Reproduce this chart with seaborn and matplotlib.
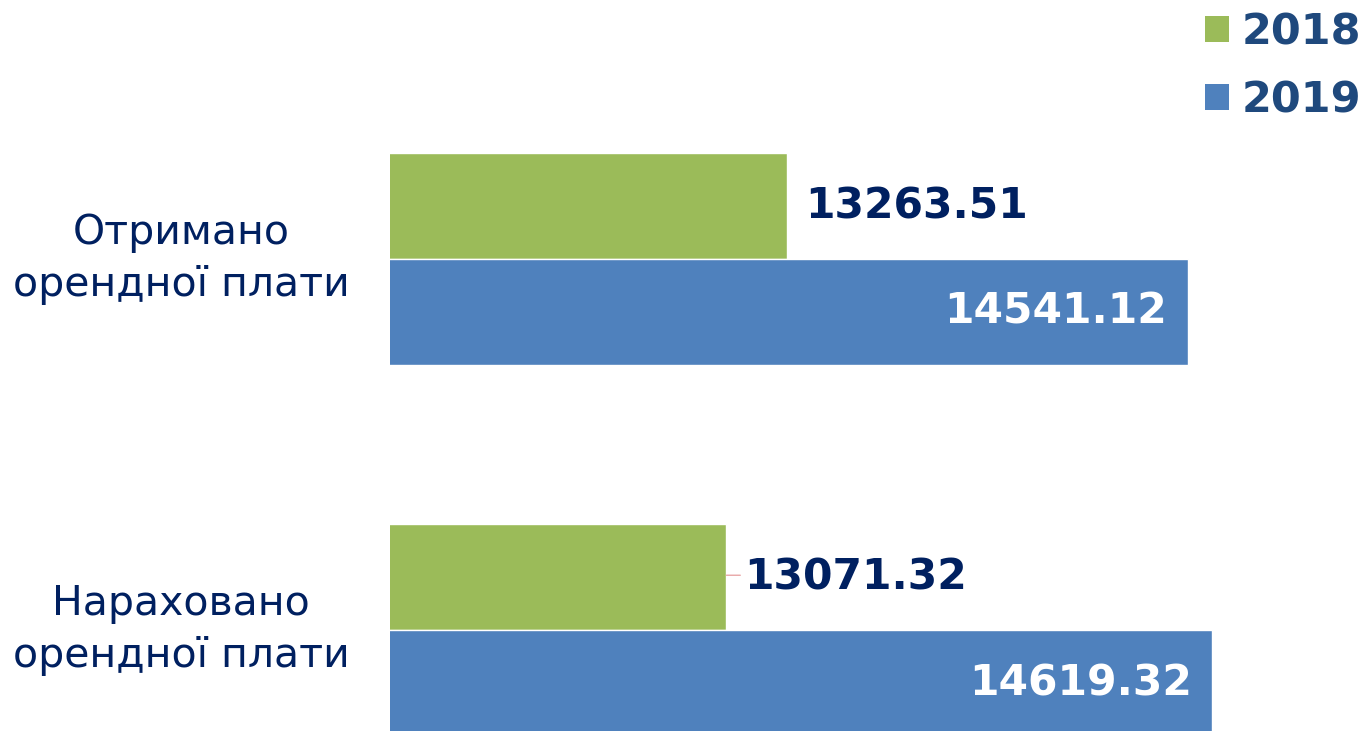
import matplotlib
matplotlib.use("Agg")
import matplotlib.pyplot as plt
import seaborn as sns
import pandas as pd
from matplotlib.patches import Patch

categories = ["Отримано\nорендної плати", "Нараховано\nорендної плати"]
years = ["2018", "2019"]
values_2018 = [13263.51, 13071.32]
values_2019 = [14541.12, 14619.32]

df = pd.DataFrame({
    "category": categories * 2,
    "year": [years[0]] * 2 + [years[1]] * 2,
    "value": values_2018 + values_2019,
})

sns.set_theme(style="white")
plt.rcParams['font.family'] = ['DejaVu Sans']

GREEN = "#9BBB59"
BLUE = "#4F81BD"
NAVY = "#002060"
LEG = "#1F497D"

fig = plt.figure(figsize=(13.63, 7.31), dpi=100)
ax = fig.add_axes([390 / 1363, 0.0, 942 / 1363, 1.0])

sns.barplot(data=df, y="category", x="value", hue="year", orient="h",
            palette=[GREEN, BLUE], width=0.571, saturation=1, ax=ax,
            legend=False, errorbar=None)

ax.set_xlim(12000, 15000)
ax.set_ylim(1.272, -0.698)
for s in ax.spines.values():
    s.set_visible(False)
ax.set_xticks([])
ax.set_xlabel("")
ax.set_ylabel("")
ax.tick_params(axis="y", length=0, pad=29)
for lab in ax.get_yticklabels():
    lab.set_fontsize(29.5)
    lab.set_color(NAVY)
    lab.set_multialignment("center")
    lab.set_linespacing(1.4)
    lab.set_va("center")

green_c, blue_c = ax.containers[0], ax.containers[1]
for bar, v in zip(green_c, values_2018):
    y = bar.get_y() + bar.get_height() / 2
    ax.annotate(f"{v:.2f}", xy=(bar.get_width(), y), xytext=(13, 0),
                textcoords="offset points", ha="left", va="center",
                fontsize=30.5, fontweight="bold", color=NAVY)
for bar, v in zip(blue_c, values_2019):
    y = bar.get_y() + bar.get_height() / 2
    ax.annotate(f"{v:.2f}", xy=(bar.get_width(), y), xytext=(-15, 0),
                textcoords="offset points", ha="right", va="center",
                fontsize=30.5, fontweight="bold", color="white")

# small leader line on second green label
b = green_c[1]
ax.annotate("", xy=(b.get_width(), b.get_y() + b.get_height() / 2 - 0.005),
            xytext=(10, 0), textcoords="offset points",
            arrowprops=dict(arrowstyle="-", color="#E8A6A6", lw=1,
                            shrinkA=0, shrinkB=0))

handles = [Patch(facecolor=GREEN, edgecolor="none"),
           Patch(facecolor=BLUE, edgecolor="none")]
leg = fig.legend(handles, years, loc="upper right",
                 bbox_to_anchor=(1.005, 0.996), frameon=False,
                 prop=dict(size=31, weight="bold"),
                 handlelength=0.56, handleheight=0.56, handletextpad=0.3,
                 labelspacing=0.6, borderaxespad=0.1, borderpad=0.1)
for t in leg.get_texts():
    t.set_color(LEG)

fig.savefig("out.png", dpi=100)
